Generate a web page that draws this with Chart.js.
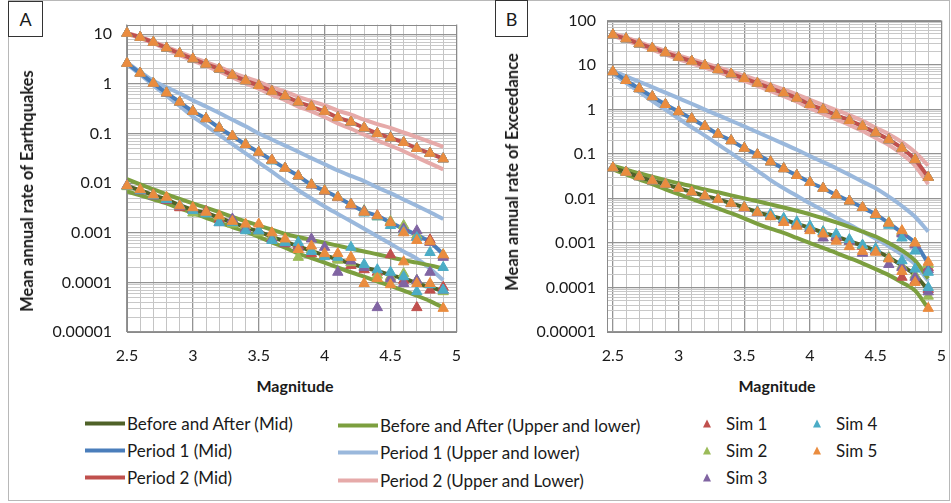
<!DOCTYPE html>
<html>
<head>
<meta charset="utf-8">
<script src="https://cdn.jsdelivr.net/npm/chart.js@4.4.0/dist/chart.umd.min.js"></script>
<style>
  html, body { margin: 0; padding: 0; background: #fff; overflow: hidden; }
  #wrap { position: relative; width: 951px; height: 503px; font-family: Lato, "Open Sans", sans-serif; color: #1a1a1a; }
  canvas { position: absolute; top: 0; }
  #chartA { left: 0; }
  #chartB { left: 480px; }
  .frame { position: absolute; left: 8px; top: 0; width: 942px; height: 501px; border: 1px solid #b8b8b8; box-sizing: border-box; }
  .tag { position: absolute; border: 1px solid #333; background: #fff; font-size: 18px; display: flex; align-items: center; justify-content: center; box-sizing: border-box; }
  .ytitle { position: absolute; font-weight: bold; font-size: 16.5px; white-space: nowrap; transform: translate(-50%, -50%) rotate(-90deg); }
  .xtitle { position: absolute; font-weight: bold; font-size: 16px; white-space: nowrap; transform: translate(-50%, -50%); }
  .lg { position: absolute; font-size: 17px; white-space: nowrap; transform: translateY(-50%); display: flex; align-items: center; }
  .lg .ln { display: inline-block; width: 40px; height: 4px; margin-right: 2px; }
  .lg .tri { display: inline-block; width: 0; height: 0; border-left: 4px solid transparent; border-right: 4px solid transparent; border-bottom: 8px solid; margin-right: 15px; }
</style>
</head>
<body>
<div id="wrap">
  <div class="frame"></div>
  <canvas id="chartA" width="475" height="370"></canvas>
  <canvas id="chartB" width="480" height="370"></canvas>
  <div class="tag" style="left:8px;top:1px;width:35px;height:36px;">A</div>
  <div class="tag" style="left:495px;top:0;width:33px;height:37px;">B</div>
  <div class="ytitle" style="left:27px;top:191px;">Mean annual rate of Earthquakes</div>
  <div class="ytitle" style="left:512px;top:172px;">Mean annual rate of Exceedance</div>
  <div class="xtitle" style="left:295px;top:385px;">Magnitude</div>
  <div class="xtitle" style="left:777px;top:385px;">Magnitude</div>
  <div id="legend"></div>
</div>
<script>
// magnitudes where the curves and simulations are given
const magnitudes = [2.5, 2.6, 2.7, 2.8, 2.9, 3.0, 3.1, 3.2, 3.3, 3.4, 3.5, 3.6, 3.7, 3.8, 3.9, 4.0, 4.1, 4.2, 4.3, 4.4, 4.5, 4.6, 4.7, 4.8, 4.9];

// axis ticks
const xGrid = [2.5, 2.6, 2.7, 2.8, 2.9, 3.0, 3.1, 3.2, 3.3, 3.4, 3.5, 3.6, 3.7, 3.8, 3.9, 4.0, 4.1, 4.2, 4.3, 4.4, 4.5, 4.6, 4.7, 4.8, 4.9, 5.0];
const xLabelVals = [2.5, 3, 3.5, 4, 4.5, 5];
const xLabels = ['2.5', '3', '3.5', '4', '4.5', '5'];
const minorSteps = [2, 3, 4, 5, 6, 7, 8, 9];
const yDecadesA = [0.00001, 0.0001, 0.001, 0.01, 0.1, 1, 10];
const yLabelsA = ['0.00001', '0.0001', '0.001', '0.01', '0.1', '1', '10'];
const yDecadesB = [0.00001, 0.0001, 0.001, 0.01, 0.1, 1, 10, 100];
const yLabelsB = ['0.00001', '0.0001', '0.001', '0.01', '0.1', '1', '10', '100'];

// Panel A - mean annual rate of earthquakes
const baMidA = [0.0088, 0.0072, 0.0057, 0.0047, 0.0036, 0.0029, 0.0025, 0.002, 0.0016, 0.0013, 0.00105, 0.00083, 0.00066, 0.00053, 0.00043, 0.00035, 0.00029, 0.00024, 0.0002, 0.00017, 0.00014, 0.00012, 0.000097, 0.00008, 0.000067];
const baUpA = [0.012, 0.0095, 0.0075, 0.006, 0.0048, 0.0039, 0.0032, 0.0026, 0.0021, 0.0017, 0.0014, 0.00115, 0.00095, 0.00082, 0.00072, 0.00063, 0.00055, 0.00048, 0.00042, 0.00037, 0.00032, 0.00028, 0.00025, 0.00022, 0.00019];
const baLoA = [0.0068, 0.0057, 0.0047, 0.0039, 0.0031, 0.0025, 0.002, 0.0016, 0.0013, 0.00105, 0.00083, 0.00064, 0.0005, 0.00038, 0.00031, 0.00025, 0.0002, 0.00016, 0.00013, 0.000105, 0.000085, 0.000068, 0.000054, 0.000042, 0.000031];
const p1MidA = [2.6, 1.65, 1.03, 0.66, 0.43, 0.28, 0.2, 0.13, 0.089, 0.06, 0.042, 0.029, 0.02, 0.014, 0.0093, 0.007, 0.0052, 0.0037, 0.0027, 0.0022, 0.0016, 0.0012, 0.0009, 0.00065, 0.00037];
const p1UpA = [2.7, 1.75, 1.16, 0.86, 0.64, 0.47, 0.35, 0.26, 0.19, 0.14, 0.1, 0.076, 0.057, 0.043, 0.032, 0.024, 0.018, 0.014, 0.011, 0.0082, 0.0063, 0.0047, 0.0035, 0.0026, 0.0019];
const p1LoA = [2.5, 1.55, 0.93, 0.58, 0.36, 0.22, 0.145, 0.094, 0.061, 0.04, 0.026, 0.017, 0.011, 0.0072, 0.0049, 0.0034, 0.0024, 0.0017, 0.0012, 0.00085, 0.0006, 0.00042, 0.0003, 0.00019, 0.00011];
const p2MidA = [10.5, 8.7, 6.9, 5.3, 4.1, 3.2, 2.5, 2.0, 1.5, 1.16, 0.93, 0.71, 0.57, 0.43, 0.35, 0.28, 0.21, 0.17, 0.13, 0.1, 0.082, 0.066, 0.05, 0.04, 0.031];
const p2UpA = [10.6, 8.9, 7.1, 5.6, 4.4, 3.45, 2.75, 2.2, 1.7, 1.35, 1.1, 0.86, 0.7, 0.55, 0.45, 0.37, 0.29, 0.24, 0.19, 0.155, 0.13, 0.105, 0.085, 0.068, 0.054];
const p2LoA = [10.2, 8.4, 6.6, 5.0, 3.8, 2.95, 2.3, 1.8, 1.35, 1.03, 0.8, 0.6, 0.47, 0.35, 0.28, 0.215, 0.16, 0.125, 0.095, 0.073, 0.057, 0.044, 0.033, 0.025, 0.019];

// simulations, panel A (one row per Sim 1..5)
const simBaA = [
  [0.0088, 0.0071, 0.0058, 0.0045, 0.0032, 0.0029, 0.0027, 0.0019, 0.0016, 0.0012, 0.0011, 0.0008, 0.0006, 0.00055, 0.00038, 0.00035, 0.0003, 0.00022, 0.00018, 0.00016, 0.00036, 0.00011, 0.000031, 0.00007, 0.00008],
  [0.0085, 0.0073, 0.0056, 0.0048, 0.0035, 0.0025, 0.0025, 0.0021, 0.0015, 0.0014, 0.001, 0.00085, 0.00068, 0.00032, 0.00045, 0.00037, 0.00028, 0.00025, 0.00021, 0.00014, 0.00013, 0.00015, 0.00011, 0.00009, 0.000065],
  [0.009, 0.007, 0.0055, 0.0046, 0.0034, 0.003, 0.0026, 0.0016, 0.0019, 0.0012, 0.0011, 0.00075, 0.00062, 0.0005, 0.00075, 0.00051, 0.00016, 0.00027, 0.0002, 0.000031, 0.00012, 0.000095, 0.00011, 0.00016, 0.00007],
  [0.0087, 0.0072, 0.0057, 0.0047, 0.0036, 0.0028, 0.0024, 0.0016, 0.0016, 0.0011, 0.0011, 0.0007, 0.00064, 0.00064, 0.00042, 0.00033, 0.00032, 0.00051, 0.00023, 0.00018, 0.00016, 0.00013, 0.000065, 0.00009, 0.00007],
  [0.0088, 0.0074, 0.0058, 0.0052, 0.0035, 0.0032, 0.0026, 0.0022, 0.0017, 0.0015, 0.0015, 0.001, 0.00075, 0.00046, 0.00054, 0.00038, 0.00038, 0.00032, 0.000095, 0.00012, 0.00009, 0.00026, 0.000095, 0.000095, 0.00003]
];
const simP1A = [
  [2.6, 1.64, 1.02, 0.66, 0.43, 0.28, 0.2, 0.13, 0.088, 0.06, 0.042, 0.029, 0.02, 0.014, 0.0092, 0.0069, 0.0051, 0.0038, 0.0026, 0.0022, 0.0016, 0.0012, 0.00084, 0.00072, 0.00034],
  [2.6, 1.66, 1.03, 0.66, 0.43, 0.28, 0.2, 0.13, 0.089, 0.061, 0.042, 0.029, 0.02, 0.014, 0.0094, 0.0071, 0.0053, 0.0037, 0.0028, 0.0021, 0.0017, 0.0014, 0.0009, 0.00065, 0.00036],
  [2.6, 1.65, 1.03, 0.65, 0.43, 0.28, 0.2, 0.13, 0.089, 0.06, 0.041, 0.029, 0.02, 0.014, 0.0093, 0.007, 0.0052, 0.0036, 0.0027, 0.0022, 0.0016, 0.0012, 0.0011, 0.00064, 0.00032],
  [2.6, 1.65, 1.04, 0.66, 0.43, 0.28, 0.2, 0.13, 0.089, 0.06, 0.042, 0.028, 0.02, 0.014, 0.0093, 0.007, 0.0052, 0.0037, 0.0025, 0.0021, 0.0014, 0.00105, 0.0008, 0.0004, 0.0002],
  [2.6, 1.65, 1.03, 0.66, 0.43, 0.28, 0.2, 0.13, 0.089, 0.06, 0.042, 0.029, 0.02, 0.014, 0.0093, 0.007, 0.0052, 0.0037, 0.0026, 0.0022, 0.0016, 0.001, 0.0007, 0.00066, 0.00036]
];

// Panel B - mean annual rate of exceedance
const baMidB = [0.049, 0.039, 0.031, 0.025, 0.021, 0.017, 0.014, 0.0115, 0.0096, 0.0078, 0.0063, 0.0049, 0.0041, 0.0034, 0.0027, 0.0022, 0.0017, 0.0014, 0.0011, 0.00087, 0.00067, 0.00048, 0.00031, 0.00019, 0.000087];
const baUpB = [0.055, 0.045, 0.037, 0.031, 0.026, 0.022, 0.019, 0.016, 0.0138, 0.0118, 0.0101, 0.0087, 0.0074, 0.0063, 0.0053, 0.0044, 0.0036, 0.0029, 0.0023, 0.0018, 0.0014, 0.001, 0.00068, 0.0004, 0.00016];
const baLoB = [0.045, 0.035, 0.027, 0.021, 0.016, 0.0125, 0.0098, 0.0077, 0.006, 0.0047, 0.0036, 0.0027, 0.0021, 0.0017, 0.0013, 0.001, 0.00078, 0.0006, 0.00046, 0.00035, 0.00026, 0.00019, 0.00013, 0.000085, 0.000034];
const p1MidB = [7.1, 4.5, 2.95, 1.95, 1.3, 0.9, 0.62, 0.42, 0.28, 0.2, 0.135, 0.097, 0.067, 0.047, 0.033, 0.023, 0.017, 0.012, 0.0088, 0.0063, 0.0044, 0.0028, 0.0017, 0.001, 0.00035];
const p1UpB = [7.5, 5.6, 4.2, 3.2, 2.4, 1.8, 1.35, 1.0, 0.75, 0.56, 0.42, 0.31, 0.23, 0.17, 0.125, 0.09, 0.066, 0.048, 0.034, 0.024, 0.017, 0.011, 0.0068, 0.0039, 0.0018];
const p1LoB = [6.5, 4.0, 2.5, 1.55, 1.0, 0.63, 0.4, 0.26, 0.165, 0.105, 0.066, 0.042, 0.026, 0.017, 0.0115, 0.0078, 0.0054, 0.0037, 0.0026, 0.0018, 0.00125, 0.00085, 0.00055, 0.00033, 0.00014];
const p2MidB = [48, 39, 30, 24, 19, 15, 12.2, 9.8, 7.9, 6.3, 5.0, 3.9, 3.0, 2.35, 1.8, 1.3, 1.0, 0.75, 0.57, 0.42, 0.3, 0.21, 0.135, 0.075, 0.03];
const p2UpB = [52, 42, 33, 26, 21, 16.5, 13.5, 11, 8.9, 7.2, 5.8, 4.6, 3.6, 2.85, 2.2, 1.65, 1.27, 0.97, 0.75, 0.56, 0.39, 0.28, 0.185, 0.11, 0.055];
const p2LoB = [45, 36, 28, 22, 17.5, 13.5, 11, 8.8, 7, 5.6, 4.4, 3.4, 2.6, 2.0, 1.5, 1.08, 0.8, 0.6, 0.45, 0.33, 0.23, 0.16, 0.1, 0.055, 0.021];

const simBaB = [
  [0.049, 0.039, 0.031, 0.025, 0.021, 0.017, 0.014, 0.0113, 0.0095, 0.0077, 0.0062, 0.0049, 0.0041, 0.0033, 0.0027, 0.0021, 0.0017, 0.0013, 0.0011, 0.00085, 0.00065, 0.00045, 0.00017, 0.00014, 0.00009],
  [0.049, 0.039, 0.031, 0.025, 0.021, 0.017, 0.014, 0.0116, 0.0096, 0.0079, 0.0064, 0.005, 0.0041, 0.0034, 0.0028, 0.0022, 0.0018, 0.0014, 0.0011, 0.00088, 0.00068, 0.00047, 0.0003, 0.00019, 0.000064],
  [0.049, 0.039, 0.031, 0.025, 0.021, 0.017, 0.014, 0.0115, 0.0096, 0.0077, 0.0062, 0.0048, 0.004, 0.0033, 0.0026, 0.0021, 0.0013, 0.0014, 0.0011, 0.00059, 0.00066, 0.00033, 0.00028, 0.00017, 0.00008],
  [0.049, 0.039, 0.031, 0.025, 0.021, 0.017, 0.014, 0.0115, 0.0097, 0.0079, 0.0064, 0.0051, 0.0045, 0.0036, 0.003, 0.0024, 0.0018, 0.0016, 0.0012, 0.0009, 0.00075, 0.00045, 0.0004, 0.00026, 0.0001],
  [0.049, 0.039, 0.031, 0.025, 0.021, 0.017, 0.014, 0.0115, 0.0096, 0.0078, 0.0063, 0.0049, 0.0039, 0.0029, 0.0024, 0.0019, 0.0016, 0.0011, 0.00083, 0.00065, 0.00062, 0.00044, 0.00023, 0.00013, 0.000034]
];
const simP1B = [
  [7.1, 4.5, 2.95, 1.95, 1.3, 0.9, 0.62, 0.42, 0.28, 0.2, 0.135, 0.097, 0.067, 0.047, 0.033, 0.023, 0.017, 0.012, 0.0088, 0.0063, 0.0044, 0.0028, 0.0017, 0.00095, 0.00028],
  [7.1, 4.5, 2.95, 1.95, 1.3, 0.9, 0.62, 0.42, 0.28, 0.2, 0.135, 0.097, 0.067, 0.047, 0.033, 0.023, 0.017, 0.012, 0.0088, 0.0063, 0.0045, 0.0029, 0.0018, 0.001, 0.00033],
  [7.1, 4.5, 2.95, 1.95, 1.3, 0.9, 0.62, 0.42, 0.28, 0.2, 0.135, 0.097, 0.067, 0.047, 0.033, 0.023, 0.017, 0.012, 0.0088, 0.0063, 0.0044, 0.0027, 0.0016, 0.0009, 0.00025],
  [7.1, 4.5, 2.95, 1.95, 1.3, 0.9, 0.62, 0.42, 0.28, 0.2, 0.135, 0.097, 0.067, 0.047, 0.033, 0.023, 0.017, 0.012, 0.0088, 0.0063, 0.0042, 0.0025, 0.0013, 0.00066, 0.00022],
  [7.1, 4.5, 2.95, 1.95, 1.3, 0.9, 0.62, 0.42, 0.28, 0.2, 0.135, 0.097, 0.067, 0.047, 0.033, 0.023, 0.017, 0.012, 0.0088, 0.0063, 0.0044, 0.0028, 0.0019, 0.001, 0.00037]
];

const simNames = ['Sim 1', 'Sim 2', 'Sim 3', 'Sim 4', 'Sim 5'];
const simColors = ['#c0504d', '#9bbb59', '#8064a2', '#4bacc6', '#ea8c3f'];

const C = {
  baMid: '#4f6228', baBand: '#7c9f3f',
  p1Mid: '#4a7ebb', p1Band: '#9ab8dc',
  p2Mid: '#c0504d', p2Band: '#e6aaa9'
};

function pts(ys) {
  return ys.map((y, i) => ({ x: magnitudes[i], y: y }));
}

function line(label, ys, color, order) {
  return {
    label: label, data: pts(ys), showLine: true,
    borderColor: color, backgroundColor: color, borderWidth: 4,
    pointRadius: 0, pointHoverRadius: 0,
    cubicInterpolationMode: 'monotone', order: order
  };
}

function sims(baRows, p1Rows, p2Tri) {
  return simNames.map((name, i) => ({
    label: name,
    data: pts(baRows[i]).concat(pts(p1Rows[i]), pts(p2Tri)),
    showLine: false, pointStyle: 'triangle', pointRadius: 6,
    backgroundColor: simColors[i], borderColor: simColors[i], borderWidth: 1,
    clip: false, order: 4 - i
  }));
}

const plotBorder = {
  id: 'plotBorder',
  beforeDatasetsDraw(chart) {
    const a = chart.chartArea;
    const ctx = chart.ctx;
    ctx.save();
    ctx.strokeStyle = '#8a8a8a';
    ctx.lineWidth = 1;
    ctx.strokeRect(Math.round(a.left) + 0.5, Math.round(a.top) + 0.5, Math.round(a.right - a.left), Math.round(a.bottom - a.top));
    ctx.restore();
  }
};

function isDecade(v) {
  const l = Math.log10(v);
  return Math.abs(l - Math.round(l)) < 1e-6;
}

function makeChart(id, yMax, xMin, padRight, yPad, decades, labels, datasets) {
  const yTicks = [];
  decades.forEach(d => {
    yTicks.push(d);
    minorSteps.forEach(k => { if (d * k <= yMax) yTicks.push(d * k); });
  });
  const font = { family: 'Lato', size: 16 };
  return new Chart(document.getElementById(id), {
    type: 'scatter',
    data: { datasets: datasets },
    options: {
      responsive: false,
      animation: false,
      devicePixelRatio: 1,
      layout: { padding: { left: 0, right: padRight, top: 17, bottom: 0 } },
      plugins: { legend: { display: false }, tooltip: { enabled: false } },
      scales: {
        x: {
          type: 'linear', min: xMin, max: 5,
          afterBuildTicks: s => { s.ticks = xGrid.map(v => ({ value: v, major: Math.abs(v * 2 - Math.round(v * 2)) < 1e-6 })); },
          afterFit: s => { s.height = 38; },
          border: { display: false },
          grid: {
            drawTicks: false,
            color: c => (c.tick && c.tick.major) ? '#939393' : '#c4c4c4',
            lineWidth: c => (c.tick && c.tick.major) ? 1.3 : 1
          },
          ticks: {
            autoSkip: false, maxRotation: 0, padding: 14, color: '#1a1a1a', font: font,
            callback: v => {
              const i = xLabelVals.findIndex(t => Math.abs(t - v) < 1e-6);
              return i >= 0 ? xLabels[i] : '';
            }
          }
        },
        y: {
          type: 'logarithmic', min: 0.00001, max: yMax,
          afterBuildTicks: s => { s.ticks = yTicks.map(v => ({ value: v, major: isDecade(v) })); },
          afterFit: s => { s.width = 127; },
          border: { display: false },
          grid: {
            drawTicks: false,
            color: c => (c.tick && c.tick.major) ? '#939393' : '#c8c8c8',
            lineWidth: c => (c.tick && c.tick.major) ? 1.3 : 1
          },
          ticks: {
            autoSkip: false, padding: yPad, color: '#1a1a1a', font: font,
            callback: v => {
              const i = decades.findIndex(d => Math.abs(d - v) / d < 1e-6);
              return i >= 0 ? labels[i] : '';
            }
          }
        }
      }
    },
    plugins: [plotBorder]
  });
}

makeChart('chartA', 15.7, 2.5, 13, 15, yDecadesA, yLabelsA, [
  ...sims(simBaA, simP1A, p2MidA),
  line('Before and After (Mid)', baMidA, C.baMid, 10),
  line('Period 1 (Mid)', p1MidA, C.p1Mid, 10),
  line('Period 2 (Mid)', p2MidA, C.p2Mid, 10),
  line('Before and After (Upper)', baUpA, C.baBand, 20),
  line('Before and After (Lower)', baLoA, C.baBand, 20),
  line('Period 1 (Upper)', p1UpA, C.p1Band, 20),
  line('Period 1 (Lower)', p1LoA, C.p1Band, 20),
  line('Period 2 (Upper)', p2UpA, C.p2Band, 20),
  line('Period 2 (Lower)', p2LoA, C.p2Band, 20)
]);

makeChart('chartB', 100, 2.455, 13.3, 11, yDecadesB, yLabelsB, [
  ...sims(simBaB, simP1B, p2MidB),
  line('Before and After (Mid)', baMidB, C.baMid, 10),
  line('Period 1 (Mid)', p1MidB, C.p1Mid, 10),
  line('Period 2 (Mid)', p2MidB, C.p2Mid, 10),
  line('Before and After (Upper)', baUpB, C.baBand, 20),
  line('Before and After (Lower)', baLoB, C.baBand, 20),
  line('Period 1 (Upper)', p1UpB, C.p1Band, 20),
  line('Period 1 (Lower)', p1LoB, C.p1Band, 20),
  line('Period 2 (Upper)', p2UpB, C.p2Band, 20),
  line('Period 2 (Lower)', p2LoB, C.p2Band, 20)
]);

// shared legend under both panels
const legendLines = [
  ['Before and After (Mid)', C.baMid, 85, 423],
  ['Period 1 (Mid)', C.p1Mid, 85, 450],
  ['Period 2 (Mid)', C.p2Mid, 85, 477],
  ['Before and After (Upper and lower)', C.baBand, 338, 425],
  ['Period 1 (Upper and lower)', C.p1Band, 338, 452],
  ['Period 2 (Upper and Lower)', C.p2Band, 338, 480]
];
const legendSims = [[703, 423], [703, 450], [703, 477], [813, 423], [813, 450]];
const legend = document.getElementById('legend');
legendLines.forEach(([text, color, x, y]) => {
  const el = document.createElement('div');
  el.className = 'lg';
  el.style.left = x + 'px';
  el.style.top = y + 'px';
  el.innerHTML = `<span class="ln" style="background:${color}"></span>${text}`;
  legend.appendChild(el);
});
simNames.forEach((name, i) => {
  const el = document.createElement('div');
  el.className = 'lg';
  el.style.left = legendSims[i][0] + 'px';
  el.style.top = legendSims[i][1] + 'px';
  el.innerHTML = `<span class="tri" style="border-bottom-color:${simColors[i]}"></span>${name}`;
  legend.appendChild(el);
});
</script>
</body>
</html>
